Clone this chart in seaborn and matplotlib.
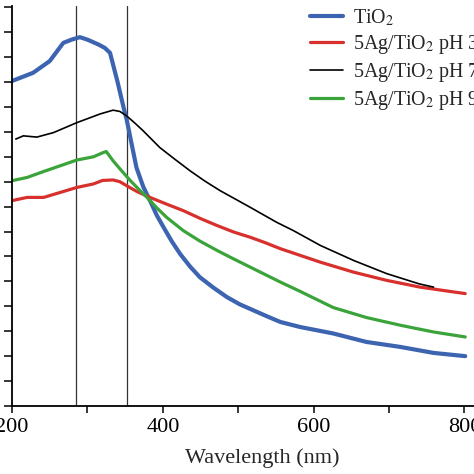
import matplotlib
matplotlib.use("Agg")
import matplotlib.pyplot as plt
import seaborn as sns
import pandas as pd

# ---- data (absorbance in arbitrary units) ----
wl_tio2 = [200, 228, 250, 268, 279, 290, 300, 315, 323, 330, 340, 348, 352, 365, 374, 383, 392, 401, 412, 423, 436, 449, 467, 485, 502, 520, 538, 556, 582, 626, 670, 715, 759, 801]
ab_tio2 = [13.04, 13.37, 13.84, 14.57, 14.7, 14.8, 14.7, 14.5, 14.37, 14.17, 13.0, 11.97, 11.5, 9.57, 8.8, 8.24, 7.65, 7.17, 6.6, 6.1, 5.6, 5.17, 4.75, 4.37, 4.08, 3.84, 3.6, 3.37, 3.17, 2.91, 2.57, 2.37, 2.13, 2.0]

wl_red = [200, 220, 242, 264, 286, 308, 320, 334, 343, 352, 366, 383, 405, 427, 450, 472, 494, 516, 536, 556, 609, 653, 697, 741, 801]
ab_red = [8.24, 8.37, 8.37, 8.57, 8.77, 8.91, 9.05, 9.07, 9.0, 8.84, 8.6, 8.37, 8.1, 7.84, 7.52, 7.24, 6.98, 6.77, 6.55, 6.31, 5.77, 5.37, 5.04, 4.77, 4.51]

wl_black = [205, 215, 233, 255, 286, 317, 334, 343, 352, 363, 374, 396, 416, 436, 456, 476, 516, 551, 573, 609, 653, 697, 740, 759]
ab_black = [10.71, 10.84, 10.79, 10.97, 11.37, 11.72, 11.87, 11.82, 11.64, 11.35, 11.04, 10.37, 9.9, 9.44, 9.02, 8.64, 7.97, 7.37, 7.04, 6.44, 5.84, 5.31, 4.9, 4.77]

wl_green = [200, 220, 242, 264, 286, 308, 321, 325, 334, 345, 357, 368, 379, 392, 405, 427, 449, 472, 494, 516, 536, 556, 582, 626, 670, 715, 759, 801]
ab_green = [9.04, 9.17, 9.41, 9.64, 9.87, 10.0, 10.17, 10.21, 9.84, 9.45, 9.04, 8.7, 8.37, 7.95, 7.57, 7.04, 6.62, 6.24, 5.9, 5.57, 5.27, 4.97, 4.6, 3.95, 3.55, 3.24, 2.97, 2.77]

labels = ["TiO$_2$", "5Ag/TiO$_2$ pH 3", "5Ag/TiO$_2$ pH 7", "5Ag/TiO$_2$ pH 9"]
colors = ["#3d64b0", "#d8302c", "#000000", "#3aa43a"]
widths = [3.0, 2.3, 1.2, 2.3]
vlines = [285, 352]
xticks_major = [200, 400, 600, 800]
xtick_labels = ["200", "400", "600", "800"]

sns.set_style("ticks")
plt.rcParams["font.family"] = ["Liberation Serif", "DejaVu Serif"]
plt.rcParams["mathtext.fontset"] = "stix"

frames = []
for wl, ab, lab in zip([wl_tio2, wl_red, wl_black, wl_green],
                       [ab_tio2, ab_red, ab_black, ab_green], labels):
    frames.append(pd.DataFrame({"wl": wl, "ab": ab, "sample": lab}))
df = pd.concat(frames, ignore_index=True)

fig = plt.figure(figsize=(4.74, 4.74), dpi=100)
ax = fig.add_axes([12 / 474, 68 / 474, 500 / 474, 400 / 474])

for lab, col, lw in zip(labels, colors, widths):
    sns.lineplot(data=df[df["sample"] == lab], x="wl", y="ab", color=col,
                 linewidth=lw, label=lab, ax=ax, estimator=None, sort=False)

for v in vlines:
    ax.axvline(v, color="#333333", linewidth=0.9, zorder=0)

ax.set_xlim(200, 863)
ax.set_ylim(0, 16.05)
ax.set_xticks(xticks_major)
ax.set_xticklabels(xtick_labels)
ax.set_xticks([300, 500, 700], minor=True)
ax.set_yticks(range(0, 17))
ax.set_yticklabels([])
ax.tick_params(axis="both", which="both", direction="out", length=5, width=1.1, colors="black")
ax.tick_params(axis="y", length=6)
ax.tick_params(axis="x", labelsize=16, pad=4)
ax.set_xlabel("Wavelength (nm)", fontsize=16, labelpad=7.5)
ax.set_ylabel("")
for s in ["top", "right"]:
    ax.spines[s].set_visible(False)
for s in ["left", "bottom"]:
    ax.spines[s].set_linewidth(1.3)
    ax.spines[s].set_color("black")

leg = ax.legend(loc="upper left", bbox_to_anchor=(310 / 474, 1 - 7.5 / 474),
                bbox_transform=fig.transFigure, frameon=False, fontsize=14.4,
                handlelength=1.65, handletextpad=0.5, labelspacing=0.25,
                borderpad=0, borderaxespad=0)

fig.savefig("out.png", dpi=100)
